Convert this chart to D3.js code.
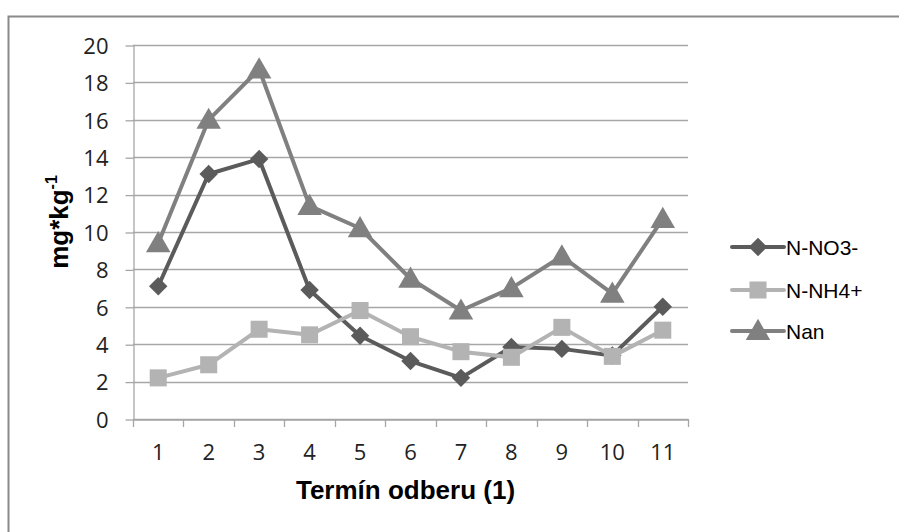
<!DOCTYPE html>
<html><head><meta charset="utf-8">
<script src="https://cdn.jsdelivr.net/npm/d3@7"></script>
<style>body{margin:0;background:#fff}svg{display:block}</style>
</head><body>
<svg id="c" width="899" height="532"></svg>
<script>
const categories = ["1","2","3","4","5","6","7","8","9","10","11"];
const no3 = [7.1, 13.1, 13.9, 6.9, 4.45, 3.1, 2.2, 3.85, 3.75, 3.4, 6.0];
const nh4 = [2.2, 2.9, 4.8, 4.5, 5.8, 4.4, 3.6, 3.3, 4.9, 3.35, 4.75];
const nan = [9.4, 16.0, 18.7, 11.4, 10.2, 7.5, 5.8, 7.0, 8.7, 6.7, 10.7];
const yTicks = [0,2,4,6,8,10,12,14,16,18,20];
const seriesNames = ["N-NO3-","N-NH4+","Nan"];
const seriesColors = ["#5b5b5b","#b3b3b3","#808080"];
const seriesShapes = [d3.symbolSquare, d3.symbolSquare, d3.symbolTriangle];
const seriesRot = [45, 0, 0];
const sizes = [170, 290, 260];

const svg = d3.select("#c");
svg.append("path").attr("d","M8.5,532 V16.5 H899").attr("fill","none").attr("stroke","#8a8a8a").attr("stroke-width",2);

const L=133, R=688, T=45, B=419;
const x = d3.scaleBand().domain(categories).range([L,R]);
const y = d3.scaleLinear().domain([0,20]).range([B,T]);
const tickFont = "Open Sans, sans-serif";

svg.append("g").selectAll("line").data(yTicks).join("line")
  .attr("x1",L).attr("x2",R).attr("y1",d=>Math.round(y(d))+0.5).attr("y2",d=>Math.round(y(d))+0.5)
  .attr("stroke","#a6a6a6").attr("stroke-width",1.3);

const ya = svg.append("g").attr("transform",`translate(${L+0.5},0.5)`)
  .call(d3.axisLeft(y).tickValues(yTicks).tickSize(8).tickPadding(17).tickSizeOuter(0));
ya.select(".domain").attr("stroke","#a6a6a6").attr("stroke-width",1.3);
ya.selectAll(".tick line").attr("stroke","#a6a6a6").attr("stroke-width",1.3);
ya.selectAll("text").attr("font-family",tickFont).attr("font-size",22).attr("fill","#222").attr("dy","0.35em");

const xa = svg.append("g").attr("transform",`translate(0,${B+0.5})`)
  .call(d3.axisBottom(x).tickSize(0).tickPadding(0).tickSizeOuter(0));
xa.select(".domain").attr("stroke","#a6a6a6").attr("stroke-width",1.3);
xa.selectAll("text").attr("font-family",tickFont).attr("font-size",22).attr("fill","#222")
  .attr("dy",null).attr("y",40);
const bounds = categories.map(c=>x(c)).concat([R]);
svg.append("g").selectAll("line").data(bounds).join("line")
  .attr("x1",d=>Math.round(d)+0.5).attr("x2",d=>Math.round(d)+0.5).attr("y1",B).attr("y2",B+8)
  .attr("stroke","#a6a6a6").attr("stroke-width",1.3);

svg.append("text").attr("x",(L+R)/2-5).attr("y",499).attr("text-anchor","middle")
  .attr("font-family","Liberation Sans, Arial, sans-serif").attr("font-weight","bold").attr("font-size",26)
  .attr("fill","#000").text("Termín odberu (1)");
const yt = svg.append("text").attr("transform","translate(68,222) rotate(-90)").attr("text-anchor","middle")
  .attr("font-family","Liberation Sans, Arial, sans-serif").attr("font-weight","bold").attr("font-size",26).attr("fill","#000");
yt.append("tspan").text("mg*kg");
yt.append("tspan").attr("dy",-11).attr("font-size",16).text("-1");

const allSeries = [no3, nh4, nan];
const cx = c => x(c) + x.bandwidth()/2;
const line = d3.line().x((d,i)=>cx(categories[i])).y(d=>y(d));
[0,1,2].forEach(k=>{
  const g = svg.append("g");
  g.append("path").attr("d",line(allSeries[k])).attr("fill","none")
    .attr("stroke",seriesColors[k]).attr("stroke-width",4).attr("stroke-linejoin","round");
  g.selectAll("path.m").data(allSeries[k]).join("path").attr("class","m")
    .attr("transform",(d,i)=>`translate(${cx(categories[i])},${y(d) + (k===2?2:0)}) rotate(${seriesRot[k]})`)
    .attr("d",d3.symbol().type(seriesShapes[k]).size(sizes[k])).attr("fill",seriesColors[k]);
});

const ly = [247, 290, 331];
seriesNames.forEach((n,k)=>{
  const g = svg.append("g").attr("transform",`translate(0,${ly[k]})`);
  g.append("line").attr("x1",732).attr("x2",784).attr("y1",0).attr("y2",0)
    .attr("stroke",seriesColors[k]).attr("stroke-width",4).attr("stroke-linecap","round");
  g.append("path").attr("transform",`translate(758,${k===2?2:0}) rotate(${seriesRot[k]})`)
    .attr("d",d3.symbol().type(seriesShapes[k]).size(sizes[k])).attr("fill",seriesColors[k]);
  g.append("text").attr("x",786).attr("y",0).attr("dy","0.36em")
    .attr("font-family","Liberation Sans, Arial, sans-serif").attr("font-size",21).attr("fill","#000").text(n);
});
</script>
</body></html>
